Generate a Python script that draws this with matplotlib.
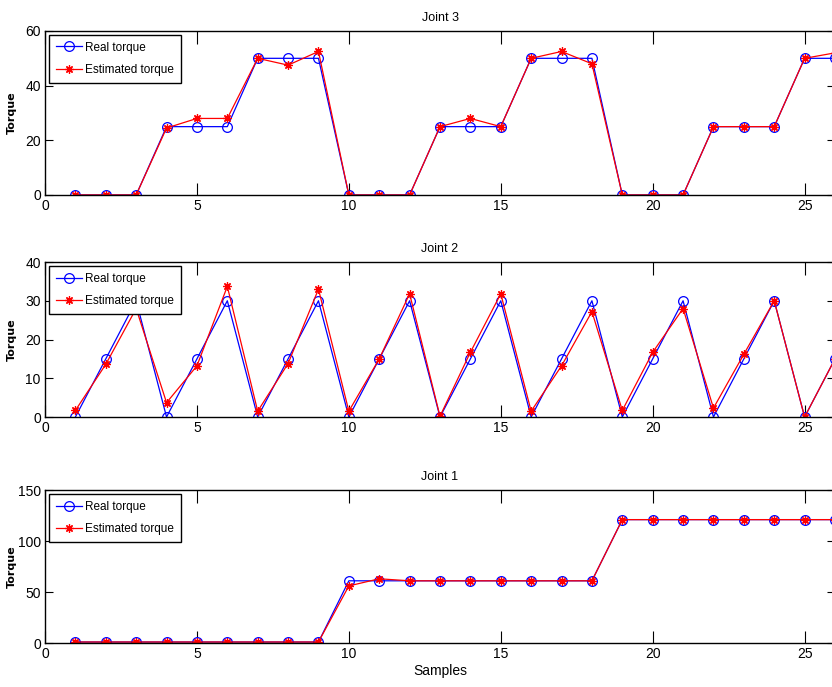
import matplotlib
matplotlib.use("Agg")
import matplotlib.pyplot as plt

samples = list(range(1, 27))

real_j3 = [0, 0, 0, 25, 25, 25, 50, 50, 50, 0, 0, 0, 25, 25, 25, 50, 50, 50, 0, 0, 0, 25, 25, 25, 50, 50]
est_j3 = [0, 0, 0, 24.5, 28, 28, 50, 47.5, 52.5, 0, 0, 0, 25, 28, 25, 50, 52.5, 48, 0, 0, 0, 25, 25, 25, 50, 52]

real_j2 = [0, 15, 30, 0, 15, 30, 0, 15, 30, 0, 15, 30, 0, 15, 30, 0, 15, 30, 0, 15, 30, 0, 15, 30, 0, 15]
est_j2 = [1.7, 13.6, 28, 3.7, 13.2, 33.7, 1.5, 13.8, 33, 1.5, 15, 31.8, 0.2, 16.7, 31.8, 1.5, 13.2, 27.2,
          1.7, 16.7, 28, 2.3, 16.2, 30, 0, 15]

real_j1 = [1, 1, 1, 1, 1, 1, 1, 1, 1, 61, 61, 61, 61, 61, 61, 61, 61, 61, 121, 121, 121, 121, 121, 121, 121, 121]
est_j1 = [1, 1, 1, 1, 1, 1, 1, 1, 1, 56, 63, 61, 61, 61, 61, 61, 61, 61, 121, 121, 121, 121, 121, 121, 121, 121]

panels = [
    ("Joint 3", real_j3, est_j3, 60, [0, 20, 40, 60]),
    ("Joint 2", real_j2, est_j2, 40, [0, 10, 20, 30, 40]),
    ("Joint 1", real_j1, est_j1, 150, [0, 50, 100, 150]),
]
# [left, bottom, width, height] in figure fraction; right spine sits just off the image
positions = [
    [0.0541, 0.7162, 0.9495, 0.2387],
    [0.0541, 0.3930, 0.9495, 0.2256],
    [0.0541, 0.0640, 0.9495, 0.2227],
]

plt.rcParams['font.family'] = ['Liberation Sans', 'DejaVu Sans']

fig = plt.figure(figsize=(8.32, 6.87), dpi=100)

for (title, real, est, ymax, yticks), pos in zip(panels, positions):
    ax = fig.add_axes(pos)
    ax.plot(samples, real, color='b', marker='o', markersize=7, markerfacecolor='none',
            markeredgewidth=0.9, linewidth=0.9, label='Real torque')
    ax.plot(samples, est, color='r', marker=(8, 2, 0), markersize=6, markeredgewidth=0.9,
            linewidth=0.9, label='Estimated torque')
    ax.set_xlim(0, 26)
    ax.set_ylim(0, ymax)
    ax.set_xticks([0, 5, 10, 15, 20, 25])
    ax.set_yticks(yticks)
    ax.tick_params(direction='in', top=True, right=True, labelsize=10, pad=3)
    ax.tick_params(axis='x', length=9)
    ax.tick_params(axis='y', length=6)
    for s in ax.spines.values():
        s.set_linewidth(1.0)
    ax.set_title(title, fontsize=9, pad=7)
    ax.set_ylabel('Torque', fontsize=8, family='DejaVu Sans', fontweight='semibold')
    ax.yaxis.set_label_coords(-0.035, 0.5)
    leg = ax.legend(loc='upper left', fontsize=8.5, frameon=True, fancybox=False,
                    edgecolor='black', framealpha=1, borderaxespad=0.35,
                    handlelength=2.2, handletextpad=0.3, labelspacing=0.9, borderpad=0.55)
    leg.get_frame().set_linewidth(1.0)
    if title == "Joint 1":
        ax.set_xlabel('Samples', fontsize=10, labelpad=2)

fig.savefig('out.png', dpi=100)
